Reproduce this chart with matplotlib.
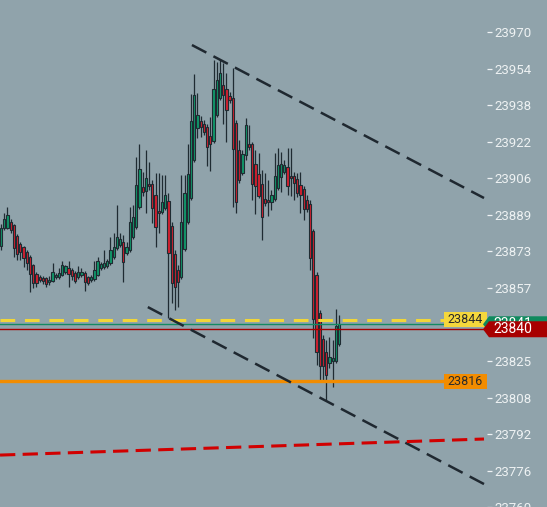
import numpy as np
import matplotlib
matplotlib.use('Agg')
import matplotlib.pyplot as plt
from matplotlib import transforms
from matplotlib.patches import Polygon, Rectangle

plt.rcParams['font.family'] = ['Roboto', 'DejaVu Sans']

# candles (oldest first)
opens = [23875.4, 23883.4, 23883.4, 23886.0, 23884.7, 23879.8, 23876.3, 23875.0, 23872.7, 23870.5,
         23867.0, 23863.0, 23861.7, 23861.3, 23861.3, 23859.5, 23859.9, 23861.7, 23861.7, 23862.6,
         23863.9, 23865.7, 23864.8, 23863.5, 23861.7, 23862.6, 23863.5, 23861.7, 23860.4, 23860.8,
         23862.6, 23865.7, 23866.1, 23866.6, 23867.9, 23870.5, 23874.5, 23875.8, 23877.2, 23872.3,
         23873.6, 23879.4, 23883.8, 23892.6, 23901.5, 23899.7, 23902.8, 23902.8, 23897.9, 23890.9,
         23890.4, 23892.2, 23895.3, 23884.2, 23871.9, 23864.8, 23861.7, 23874.1, 23886.0, 23896.6,
         23913.4, 23927.5, 23930.6, 23929.3, 23928.0, 23924.0, 23921.8, 23933.3, 23940.8, 23946.5,
         23944.8, 23941.7, 23940.8, 23929.7, 23917.8, 23907.7, 23915.6, 23920.5, 23920.5, 23911.6,
         23907.2, 23902.8, 23896.2, 23895.7, 23894.8, 23896.2, 23901.0, 23905.9, 23908.1, 23910.3,
         23906.3, 23906.3, 23905.0, 23902.3, 23900.6, 23895.7, 23894.0, 23882.0, 23862.6, 23845.8,
         23834.3, 23828.6, 23823.7, 23824.6, 23824.6, 23832.1]
highs = [23885.1, 23890.0, 23892.6, 23887.3, 23885.1, 23880.7, 23877.2, 23875.4, 23873.6, 23871.4,
         23867.4, 23863.9, 23862.6, 23862.1, 23861.7, 23862.1, 23867.9, 23863.5, 23865.7, 23868.8,
         23867.0, 23868.8, 23865.7, 23864.4, 23866.6, 23865.7, 23864.4, 23862.1, 23862.6, 23868.8,
         23870.5, 23868.3, 23873.6, 23869.7, 23879.4, 23881.1, 23893.5, 23881.1, 23880.3, 23877.2,
         23892.6, 23893.5, 23914.7, 23920.5, 23908.1, 23917.8, 23912.5, 23904.6, 23907.7, 23907.7,
         23906.8, 23906.8, 23898.8, 23886.0, 23873.6, 23867.0, 23906.8, 23906.8, 23920.5, 23942.6,
         23951.4, 23943.0, 23932.8, 23931.1, 23929.3, 23932.4, 23957.6, 23956.7, 23957.6, 23956.3,
         23951.8, 23943.4, 23954.1, 23931.1, 23922.2, 23917.8, 23932.0, 23928.9, 23921.4, 23917.8,
         23916.5, 23909.0, 23907.7, 23904.6, 23900.1, 23916.5, 23918.7, 23916.9, 23913.4, 23918.7,
         23918.7, 23908.1, 23907.7, 23908.1, 23901.9, 23897.9, 23895.7, 23882.9, 23863.9, 23847.1,
         23836.1, 23833.9, 23835.2, 23833.9, 23847.6, 23844.9]
lows = [23873.6, 23882.5, 23882.9, 23881.1, 23870.5, 23869.2, 23869.2, 23866.1, 23864.8, 23855.1,
        23856.8, 23857.3, 23859.5, 23858.6, 23857.3, 23858.2, 23859.5, 23860.8, 23860.8, 23862.1,
        23863.0, 23857.3, 23860.4, 23859.0, 23860.8, 23861.7, 23855.5, 23858.2, 23859.5, 23859.9,
        23862.1, 23864.8, 23865.2, 23865.7, 23867.0, 23869.7, 23873.6, 23875.0, 23859.5, 23871.4,
        23872.7, 23878.5, 23882.9, 23891.7, 23897.5, 23890.0, 23900.1, 23885.6, 23875.0, 23881.1,
        23889.5, 23891.3, 23843.6, 23850.2, 23847.1, 23848.4, 23860.8, 23873.2, 23885.1, 23895.7,
        23912.5, 23923.1, 23923.6, 23924.4, 23910.7, 23908.5, 23920.9, 23932.4, 23939.9, 23929.3,
        23921.4, 23938.6, 23892.6, 23890.0, 23903.2, 23906.8, 23913.4, 23917.8, 23895.7, 23889.5,
        23896.6, 23878.0, 23893.1, 23888.7, 23891.3, 23895.3, 23900.1, 23899.3, 23907.2, 23897.9,
        23897.5, 23895.7, 23897.0, 23890.0, 23886.9, 23890.4, 23864.8, 23834.7, 23822.8, 23815.7,
        23815.3, 23807.3, 23821.5, 23813.1, 23823.7, 23831.2]
closes = [23883.4, 23887.3, 23889.1, 23882.5, 23874.5, 23871.9, 23872.7, 23870.1, 23867.9, 23863.0,
          23859.0, 23859.0, 23860.4, 23859.9, 23858.6, 23860.4, 23863.9, 23862.6, 23863.5, 23867.0,
          23866.6, 23863.0, 23862.1, 23859.9, 23863.9, 23863.9, 23859.5, 23859.0, 23861.7, 23864.8,
          23868.8, 23867.4, 23867.9, 23868.8, 23873.6, 23875.0, 23879.4, 23878.5, 23868.3, 23875.0,
          23886.0, 23888.2, 23902.3, 23909.4, 23899.3, 23905.4, 23901.9, 23892.2, 23883.8, 23890.0,
          23894.8, 23897.9, 23872.3, 23859.0, 23857.3, 23859.5, 23886.0, 23898.8, 23907.2, 23930.6,
          23942.1, 23933.3, 23928.0, 23925.8, 23919.1, 23920.5, 23944.8, 23948.8, 23951.8, 23942.1,
          23935.5, 23939.9, 23918.3, 23894.8, 23904.6, 23916.0, 23928.9, 23919.1, 23902.8, 23901.9,
          23897.5, 23888.2, 23894.4, 23894.8, 23897.9, 23906.3, 23911.2, 23911.6, 23911.2, 23901.9,
          23905.4, 23903.2, 23898.8, 23897.9, 23891.7, 23891.7, 23870.1, 23843.1, 23828.6, 23822.4,
          23822.4, 23818.4, 23826.3, 23825.9, 23840.0, 23840.9]

# price scale
tick_values = [23986.2, 23970.0, 23953.8, 23937.7, 23921.5, 23905.3, 23889.2, 23873.0, 23856.8,
               23840.7, 23824.5, 23808.4, 23792.2, 23776.0, 23759.9]
tick_labels = ['23987', '23970', '23954', '23938', '23922', '23906', '23889', '23873', '23857',
               '23841', '23825', '23808', '23792', '23776', '23760']

# drawn trend lines: (bar index, price) end points
upper_channel = [(59.3, 23964.2), (150.0, 23896.6)]
lower_channel = [(45.6, 23848.4), (150.0, 23770.2)]
red_trend = [(-0.3, 23783.0), (150.0, 23790.1)]

# horizontal levels
yellow_level, yellow_label = 23842.7, '23844'
green_level, green_label = 23840.8, '23841'
red_level, red_label = 23838.6, '23840'
orange_level, orange_label = 23815.6, '23816'

bg = '#90a3ab'
edge = '#1f2b32'
up_col = '#11966a'
down_col = '#d2202f'
txt_col = '#eef2f3'

W, H = 547, 507
fig = plt.figure(figsize=(W / 100, H / 100), dpi=100)
fig.patch.set_facecolor(bg)
ax_w = 487
ax = fig.add_axes([0, -10 / H, ax_w / W, 527 / H])
ax.set_facecolor(bg)
px = 0.4419  # price per pixel
ax.set_ylim(23984.1 - px * 517, 23984.1 + px * 10)
ax.set_xlim(-0.31, (ax_w - 1) / 3.22)

o = np.array(opens); h = np.array(highs); l = np.array(lows); c = np.array(closes)
x = np.arange(len(o))
cols = np.where(c >= o, up_col, down_col)
ax.vlines(x, l, h, color=edge, linewidth=0.9, zorder=2)
bottom = np.minimum(o, c)
height = np.maximum(np.abs(c - o), 0.5)
ax.bar(x, height, bottom=bottom, width=0.7, color=cols, edgecolor=edge, linewidth=0.8, zorder=3)

# trend lines
for pts, col, lw, dash in [(upper_channel, '#1f2830', 1.8, (6.5, 3.2)),
                           (lower_channel, '#1f2830', 1.8, (6.5, 3.2)),
                           (red_trend, '#d10000', 2.2, (5.0, 2.4))]:
    xs, ys = zip(*pts)
    ax.plot(xs, ys, color=col, linewidth=lw, dashes=dash, zorder=5)

# horizontal levels
ax.axhline(orange_level, color='#f28c00', linewidth=2.4, zorder=4)
ax.axhline(green_level, color='#138a63', linewidth=1.0, zorder=4)
ax.axhline(red_level, color='#a30000', linewidth=1.0, zorder=4)
ax.axhline(yellow_level, color='#f2d637', linewidth=2.2, dashes=(4.8, 3.2), zorder=4)

ax.set_yticks(tick_values)
ax.set_yticklabels(tick_labels)
ax.yaxis.tick_right()
ax.yaxis.set_zorder(1)
ax.tick_params(axis='y', direction='out', length=3.8, width=0.9, color=txt_col,
               pad=1.5, labelsize=9.5, labelcolor=txt_col)
ax.set_xticks([])
for s in ax.spines.values():
    s.set_visible(False)

blend = transforms.blended_transform_factory(ax.transAxes, ax.transData)


def fx(p):
    return p / ax_w


# price boxes inside the plot
for level, label, col in [(yellow_level, yellow_label, '#f5d83c'),
                          (orange_level, orange_label, '#f28c00')]:
    hh = 7.5 * px
    ax.add_patch(Rectangle((fx(444), level - hh), fx(43), 2 * hh, transform=blend,
                           facecolor=col, edgecolor='none', zorder=8, clip_on=False))
    ax.text(fx(465.5), level, label, transform=blend, ha='center', va='center',
            fontsize=9, color='#2a2a2a', zorder=9, clip_on=False)

# price tags on the scale
for level, label, col, z in [(green_level, green_label, '#0f8a5e', 10),
                             (red_level, red_label, '#a80000', 12)]:
    hh = 8 * px
    pts = [(fx(483), level), (fx(489), level + hh), (fx(W), level + hh),
           (fx(W), level - hh), (fx(489), level - hh)]
    ax.add_patch(Polygon(pts, closed=True, transform=blend, facecolor=col,
                         edgecolor='none', zorder=z, clip_on=False))
    ax.text(fx(513), level, label, transform=blend, ha='center', va='center',
            fontsize=10, color='white', zorder=z + 1, clip_on=False)

fig.savefig('out.png', dpi=100, facecolor=bg)
